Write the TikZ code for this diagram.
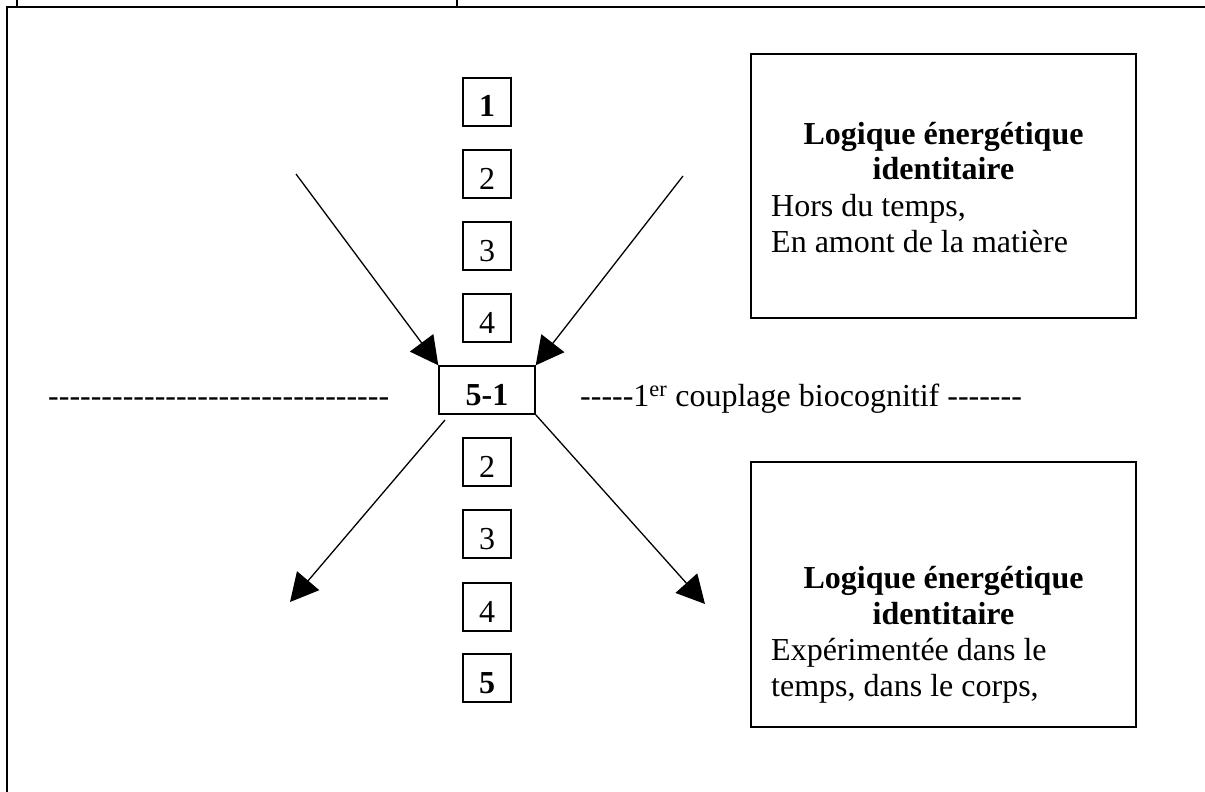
\documentclass[tikz,border=0pt]{standalone}
\usepackage{fontspec}
\setmainfont{Liberation Serif}
\usetikzlibrary{arrows.meta}
\ExplSyntaxOn
\cs_new:Npn \myhyph #1 { \prg_replicate:nn {#1} { -{} } }
\ExplSyntaxOff
\begin{document}
\begin{tikzpicture}[x=1pt,y=-1pt,
  every node/.style={font=\fontsize{32}{36.5}\selectfont},
  sq/.style={draw, line width=1.4pt, minimum width=48pt, minimum height=48pt, inner sep=0pt, text height=30pt, text depth=0pt},
  bigbox/.style={draw, line width=1.4pt, minimum width=385pt, minimum height=264pt, inner sep=0pt},
  txt/.style={inner sep=0pt, anchor=base},
  txtl/.style={inner sep=0pt, anchor=base west},
  arr/.style={-{Triangle[length=28pt,width=29pt]}, line width=1.3pt},
  frame/.style={line width=2pt}]
\useasboundingbox (0,0) rectangle (1205,792);
% frame and table ticks
\draw[frame] (7,792) -- (7,7) -- (1205,7);
\draw[line width=1.3pt] (17,0) -- (17,7);
\draw[line width=1.3pt] (457,0) -- (457,7);
% column of boxes
\node[sq] (b1) at (487,102) {\textbf{1}};
\node[sq] (b2) at (487,174) {2};
\node[sq] (b3) at (487,246) {3};
\node[sq] (b4) at (487,318) {4};
\node[sq, minimum width=96pt] (c51) at (487,390) {\textbf{5-1}};
\node[sq] (d2) at (487,462) {2};
\node[sq] (d3) at (487,534) {3};
\node[sq] (d4) at (487,607) {4};
\node[sq] (d5) at (487,678) {\textbf{5}};
% dashed text lines
\node[txtl] (dl) at (48,406) {\myhyph{32}};
\node[txtl] (dr) at (580,406) {\myhyph{5}1\textsuperscript{er} couplage biocognitif \myhyph{7}};
% big boxes
\node[bigbox] (top) at (943.5,186) {};
\node[txt] (t1) at (943.5,144) {\textbf{Logique énergétique}};
\node[txt] (t2) at (943.5,179) {\textbf{identitaire}};
\node[txtl] (t3) at (771,216) {Hors du temps,};
\node[txtl] (t4) at (771,252) {En amont de la matière};
\node[bigbox, minimum height=265pt] (bot) at (943.5,594.5) {};
\node[txt] (u1) at (943.5,588) {\textbf{Logique énergétique}};
\node[txt] (u2) at (943.5,624) {\textbf{identitaire}};
\node[txtl] (u3) at (771,660) {Expérimentée dans le};
\node[txtl] (u4) at (771,696) {temps, dans le corps,};
% arrows
\coordinate (atl) at (296,174);
\coordinate (atr) at (683,176);
\coordinate (abl) at (445,420);
\coordinate (ebl) at (290,602);
\coordinate (ebr) at (705,604);
\draw[arr] (atl) -- (c51.north west);
\draw[arr] (atr) -- (c51.north east);
\draw[arr] (abl) -- (ebl);
\draw[arr] (c51.south east) -- (ebr);
\end{tikzpicture}
\end{document}
